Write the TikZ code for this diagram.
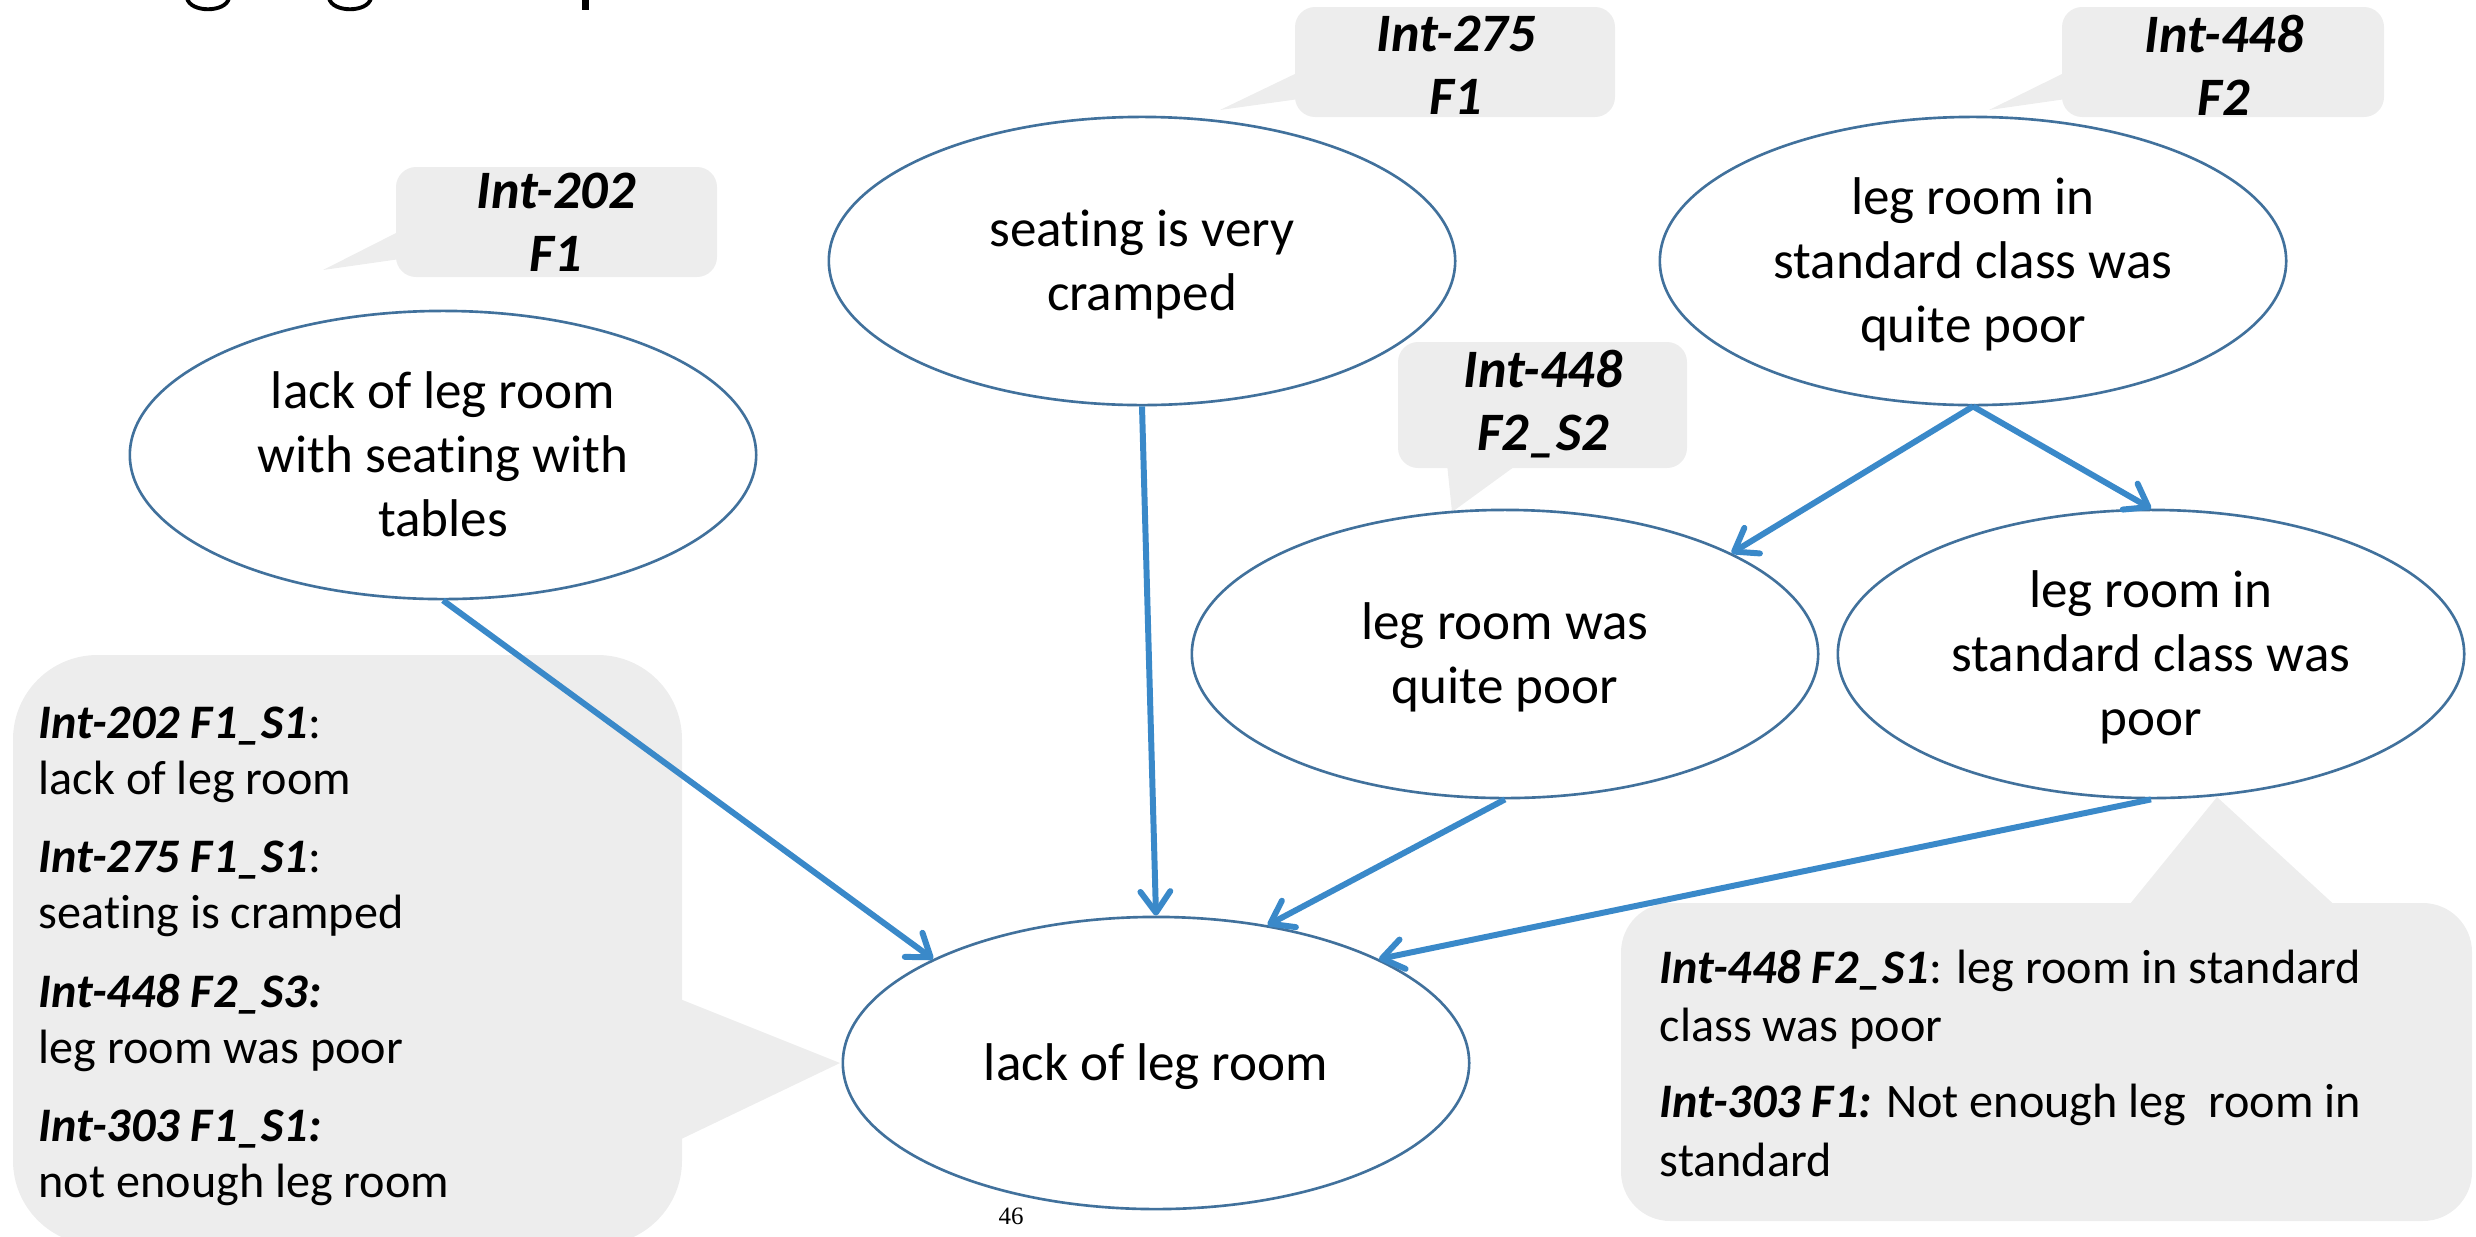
\documentclass[tikz,border=0pt]{standalone}
\usepackage{fontspec}
\setmainfont{Carlito}[Ligatures={NoCommon,NoContextual}]
\newfontfamily\pagenumfont{Liberation Serif}
\usetikzlibrary{shapes.geometric,arrows.meta}
\definecolor{ovalline}{HTML}{41719C}
\definecolor{linkblue}{HTML}{3A89C9}
\definecolor{notegray}{HTML}{EDEDED}
\newcommand{\lbl}[1]{\textbf{\textit{#1}}}
% centred lines of an oval, every line on a full strut, set a little low
\newcommand{\ovaltext}[1]{\raisebox{-1.2pt}[\height][\depth]{\begin{tabular}{@{}c@{}}#1\end{tabular}}}

\tikzset{
  oval/.style={ellipse, draw=ovalline, fill=white, line width=0.75pt,
    minimum width=6.26cm, minimum height=2.88cm, inner sep=0pt,
    font=\fontsize{15.1}{18.2}\selectfont},
  link/.style={draw=linkblue, line width=1.7pt,
    -{Straight Barb[length=6pt,width=8.5pt,round]}},
  note/.style={fill=notegray},
  tag/.style={align=center, inner sep=0pt,
    font=\fontsize{15.4}{17.9}\selectfont\bfseries\itshape},
  noteline/.style={anchor=base west, inner sep=0pt,
    font=\fontsize{13.7}{16}\selectfont},
}

\begin{document}
\begin{tikzpicture}[x=0.01cm, y=-0.01cm]
\useasboundingbox (0,0) rectangle (2476,1236);
\clip (0,0) rectangle (2476,1236);

% lower ends of the heading letters, cut by the top edge
\draw[line width=1.1pt] (187,-2) .. controls (190,13) and (226,13) .. (229,-2);
\draw[line width=1.1pt] (329,-2) .. controls (332,13) and (368,13) .. (371,-2);
\fill (582,0) rectangle (589,10);

% speech bubbles
\fill[note, rounded corners=5.7pt] (396,167) rectangle (717,277);
\fill[note] (400,231) -- (323,270) -- (400,259) -- cycle;

\fill[note, rounded corners=5.7pt] (1295,7) rectangle (1615,117);
\fill[note] (1299,72) -- (1220,110) -- (1299,99) -- cycle;

\fill[note, rounded corners=5.7pt] (2062,7) rectangle (2384,117);
\fill[note] (2066,72) -- (1989,110) -- (2066,99) -- cycle;

\fill[note, rounded corners=5.7pt] (1398,342) rectangle (1687,468);
\fill[note] (1447,464) -- (1452,512) -- (1518,464) -- cycle;

\fill[note, rounded corners=24pt] (13,655) rectangle (682,1245);
\fill[note] (675,997) -- (840,1063) -- (675,1142) -- cycle;

\fill[note, rounded corners=14pt] (1621,903) rectangle (2472,1221);
\fill[note] (2125,910) -- (2217,797) -- (2340,910) -- cycle;

% statements
\node[oval] (e202) at (443,455) {\ovaltext{lack of leg room\\with seating with\\tables}};
\node[oval] (e275) at (1142,261) {\ovaltext{seating is very\\cramped}};
\node[oval] (e448) at (1973,261) {\ovaltext{leg room in\\standard class was\\quite poor}};
\node[oval] (e448a) at (1505,654) {\ovaltext{leg room was\\quite poor}};
\node[oval] (e448b) at (2151,654) {\ovaltext{leg room in\\standard class was\\poor}};
\node[oval, minimum height=2.92cm] (ebot) at (1156,1063) {\ovaltext{lack of leg room}};

% links
\draw[link] (e202.south) -- (ebot.155);
\draw[link] (e275.south) -- (ebot.north);
\draw[link] (e448.south) -- (e448a.24);
\draw[link] (e448.south) -- (e448b.north);
\draw[link] (e448a.south) -- (ebot.51);
\draw[link] (e448b.south) -- (ebot.25);

% bubble texts
\node[tag] (t202) at (556,222) {Int-202\\F1};
\node[tag] (t275) at (1456,65) {Int-275\\F1};
\node[tag] (t448) at (2224,65) {Int-448\\F2};
\node[tag] (t448s) at (1543,404) {Int-448\\F2\_S2};

\foreach \yy/\txt [count=\i] in {
  738/{\lbl{Int-202 F1\_S1}:},
  794/{lack of leg room},
  872/{\lbl{Int-275 F1\_S1}:},
  928/{seating is cramped},
  1007/{\lbl{Int-448 F2\_S3:}},
  1063/{leg room was poor},
  1141/{\lbl{Int-303 F1\_S1:}},
  1197/{not enough leg room}}
  \node[noteline] (la\i) at (38,\yy) {\txt};

\foreach \yy/\txt [count=\i] in {
  983/{\lbl{Int-448 F2\_S1}: leg room in standard},
  1041/{class was poor},
  1117/{\lbl{Int-303 F1:} Not enough leg\ \ room in},
  1176/{standard}}
  \node[noteline] (lb\i) at (1659,\yy) {\txt};

\node[anchor=base, inner sep=0pt, font=\pagenumfont\fontsize{7.1}{8}\selectfont] (pg) at (1011,1224) {46};
\end{tikzpicture}
\end{document}
